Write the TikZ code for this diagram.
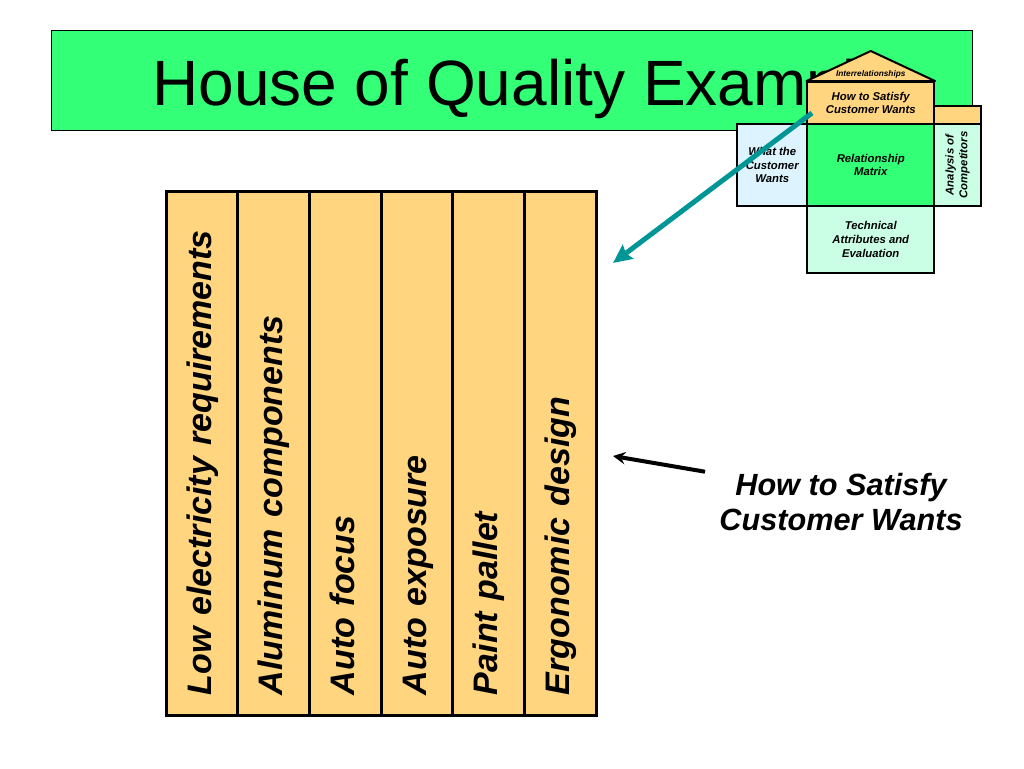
\documentclass[tikz,border=0pt]{standalone}
\usepackage{fontspec}
\setmainfont{Liberation Sans}[BoldFont={Liberation Sans Bold}, ItalicFont={Liberation Sans Italic}, BoldItalicFont={Liberation Sans Bold Italic}]
\usetikzlibrary{arrows.meta}
\tikzset{>=stealth}
\definecolor{qgreen}{RGB}{51,255,119}
\definecolor{qorange}{RGB}{255,213,128}
\definecolor{qblue}{RGB}{221,244,255}
\definecolor{qmint}{RGB}{202,255,230}
\definecolor{qteal}{RGB}{0,150,150}

\begin{document}
\begin{tikzpicture}[x=0.75pt, y=-0.75pt,
  colbox/.style={draw, line width=2.25pt, fill=qorange, rotate=90, minimum width=392.5pt, minimum height=53.75pt,
    inner xsep=15pt, inner ysep=0pt, text width=362.5pt, align=left, text height=20pt, text depth=6.5pt,
    font=\fontsize{25.5pt}{30pt}\selectfont\bfseries\itshape},
  hbox/.style={draw, line width=1.5pt, inner sep=0pt, align=center,
    font=\fontsize{8.5pt}{10.3pt}\selectfont\bfseries\itshape}]
\fill[white] (0,0) rectangle (1024,768);
\useasboundingbox (0,0) rectangle (1024,768);

\node[draw, line width=0.75pt, fill=qgreen, minimum width=690.75pt, minimum height=75.2pt] (title) at (511.5,80.85) {};
\node[anchor=base west, inner sep=0pt, font=\fontsize{48pt}{56pt}\selectfont] (titletext) at (152,105) {House of Quality Example};

% small house
\node[hbox, fill=qorange, minimum width=35.25pt, minimum height=13.5pt] (ext) at (957.5,115) {};
\node[hbox, fill=qorange, minimum width=94.9pt, minimum height=31.5pt] (how) at (870.75,103) {How to Satisfy\\Customer Wants};
\node[hbox, fill=qblue, minimum width=52.9pt, minimum height=61.5pt] (wants) at (772.25,165) {What the\\Customer\\Wants};
\node[hbox, fill=qgreen, minimum width=94.9pt, minimum height=61.5pt] (matrix) at (870.75,165) {Relationship\\Matrix};
\node[hbox, fill=qmint, rotate=90, minimum width=61.5pt, minimum height=35.25pt] (comp) at (957.5,165) {Analysis of\\Competitors};
\node[hbox, fill=qmint, minimum width=94.9pt, minimum height=50.25pt] (tech) at (870.75,239.5) {Technical\\Attributes and\\Evaluation};
\coordinate (apex) at (870.75,51);
\draw[fill=qorange, line width=1.5pt, line join=round] (how.north west) -- (apex) -- (how.north east) -- cycle;
\node[font=\fontsize{6.2pt}{7pt}\selectfont\bfseries\itshape] (roof) at (870.75,74) {Interrelationships};

\coordinate (tealfrom) at (812,113);
\coordinate (tealto) at (613,263);
\draw[-{Stealth[length=14pt, width=13pt, inset=2pt]}, qteal, line width=3.75pt] (tealfrom) -- (tealto);

% columns
\foreach \txt [count=\i] in {Low electricity requirements, Aluminum components, Auto focus, Auto exposure, Paint pallet, Ergonomic design}
  \node[colbox] (col\i) at (130.3+71.7*\i,453.35) {\txt};

\node[align=center, font=\fontsize{23pt}{26.25pt}\selectfont\bfseries\itshape] (label) at (841,502.3) {How to Satisfy\\Customer Wants};
\coordinate (arrfrom) at (705,471.7);
\coordinate (arrto) at (613,456);
\draw[->, line width=3pt] (arrfrom) -- (arrto);
\end{tikzpicture}
\end{document}
